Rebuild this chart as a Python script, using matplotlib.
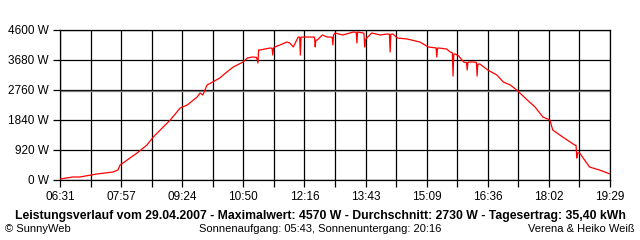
import numpy as np
import matplotlib
matplotlib.use("Agg")
import matplotlib.pyplot as plt

# readings of the power curve (time of day, watts)
times = ["06:31", "06:49", "06:59", "07:23", "07:46", "07:53", "07:56", "08:06", "08:20",
         "08:34", "08:43", "08:57", "09:07", "09:21", "09:31", "09:45", "09:49", "09:53",
         "09:59", "10:07", "10:17", "10:27", "10:36", "10:50", "10:56", "11:03", "11:09",
         "11:11", "11:12", "11:14", "11:28", "11:31", "11:32", "11:33", "11:35", "11:42",
         "11:52", "11:56", "12:01", "12:08", "12:10", "12:11", "12:12", "12:18", "12:25",
         "12:31", "12:32", "12:33", "12:35", "12:42", "12:49", "12:56", "12:57", "12:58",
         "13:00", "13:11", "13:26", "13:30", "13:31", "13:32", "13:40", "13:41", "13:42",
         "13:43", "13:45", "13:52", "14:04", "14:14", "14:17", "14:18", "14:19", "14:22",
         "14:28", "14:42", "15:00", "15:12", "15:23", "15:24", "15:25", "15:27", "15:38",
         "15:43", "15:46", "15:47", "15:48", "15:50", "15:55", "16:02", "16:06", "16:07",
         "16:08", "16:11", "16:15", "16:20", "16:21", "16:22", "16:25", "16:36", "16:49",
         "16:58", "17:08", "17:17", "17:32", "17:43", "17:54", "18:04", "18:08", "18:22",
         "18:39", "18:41", "18:42", "18:43", "18:46", "19:00", "19:14", "19:29"]
watts = [31, 92, 92, 184, 245, 307, 460, 613, 828,
         1073, 1319, 1625, 1840, 2208, 2300, 2545, 2668, 2607,
         2913, 3005, 3128, 3312, 3465, 3619, 3741, 3772, 3760,
         3588, 3990, 3987, 4048, 4040, 3833, 4050, 4079, 4140,
         4232, 4201, 4079, 4385, 4380, 3833, 4380, 4385, 4385,
         4380, 4079, 4290, 4293, 4447, 4385, 4380, 4140, 4450,
         4508, 4447, 4539, 4530, 4201, 4539, 4508, 4500, 4079,
         4300, 4355, 4508, 4447, 4477, 4470, 3925, 4470, 4477,
         4355, 4324, 4232, 4079, 4050, 3772, 4040, 4048, 4017,
         3925, 3900, 3189, 3860, 3864, 3803, 3619, 3600, 3373,
         3610, 3619, 3619, 3610, 3189, 3550, 3557, 3373, 3220,
         3005, 2913, 2760, 2453, 2239, 1932, 1840, 1533, 1319,
         1073, 1060, 675, 830, 828, 399, 307, 184]

y_ticks = [0, 920, 1840, 2760, 3680, 4600]
x_labels = ["06:31", "07:57", "09:24", "10:50", "12:16", "13:43", "15:09", "16:36", "18:02", "19:29"]
average = 2730

title = "Leistungsverlauf vom 29.04.2007 - Maximalwert: 4570 W - Durchschnitt: 2730 W - Tagesertrag: 35,40 kWh"
sun = "Sonnenaufgang: 05:43, Sonnenuntergang: 20:16"


def to_min(t):
    h, m = t.split(":")
    return int(h) * 60 + int(m)


x = np.array([to_min(t) for t in times])
start, end = to_min(x_labels[0]), to_min(x_labels[-1])

plt.rcParams['font.family'] = ['Liberation Sans', 'DejaVu Sans']
fig = plt.figure(figsize=(6.4, 2.4), dpi=100)
ax = fig.add_axes([60 / 640, 60 / 240, 550 / 640, 150 / 240])

grid_x = np.linspace(start, end, 19)
for gx in grid_x:
    ax.axvline(gx, color='black', lw=0.9, zorder=1)
for gy in y_ticks:
    ax.axhline(gy, color='black', lw=0.9, zorder=1)
ax.axhline(average, color='#808080', lw=0.9, zorder=1.5)

ax.plot(x, watts, color='#ff0000', lw=0.9, zorder=3)

ax.set_xlim(start, end)
ax.set_ylim(0, 4600)
ax.set_xticks(grid_x[::2])
ax.set_xticklabels(x_labels, fontsize=8.5)
ax.set_xticks(grid_x[1::2], minor=True)
ax.set_yticks(y_ticks)
ax.set_yticklabels([f"{v} W" for v in y_ticks], fontsize=8.5)
ax.tick_params(axis='both', which='both', length=5, width=0.9, color='black', pad=3)
for s in ax.spines.values():
    s.set_color('black')
    s.set_linewidth(0.9)

fig.text(320 / 640, 1 - 216 / 240, title, ha='center', va='center', fontsize=8.8, fontweight='bold')
fig.text(5 / 640, 1 - 229 / 240, "\u00a9 SunnyWeb", ha='left', va='center', fontsize=8)
fig.text(320 / 640, 1 - 229 / 240, sun, ha='center', va='center', fontsize=8)
fig.text(635 / 640, 1 - 229 / 240, "Verena & Heiko Weiß", ha='right', va='center', fontsize=8)

fig.savefig("out.png", dpi=100)
